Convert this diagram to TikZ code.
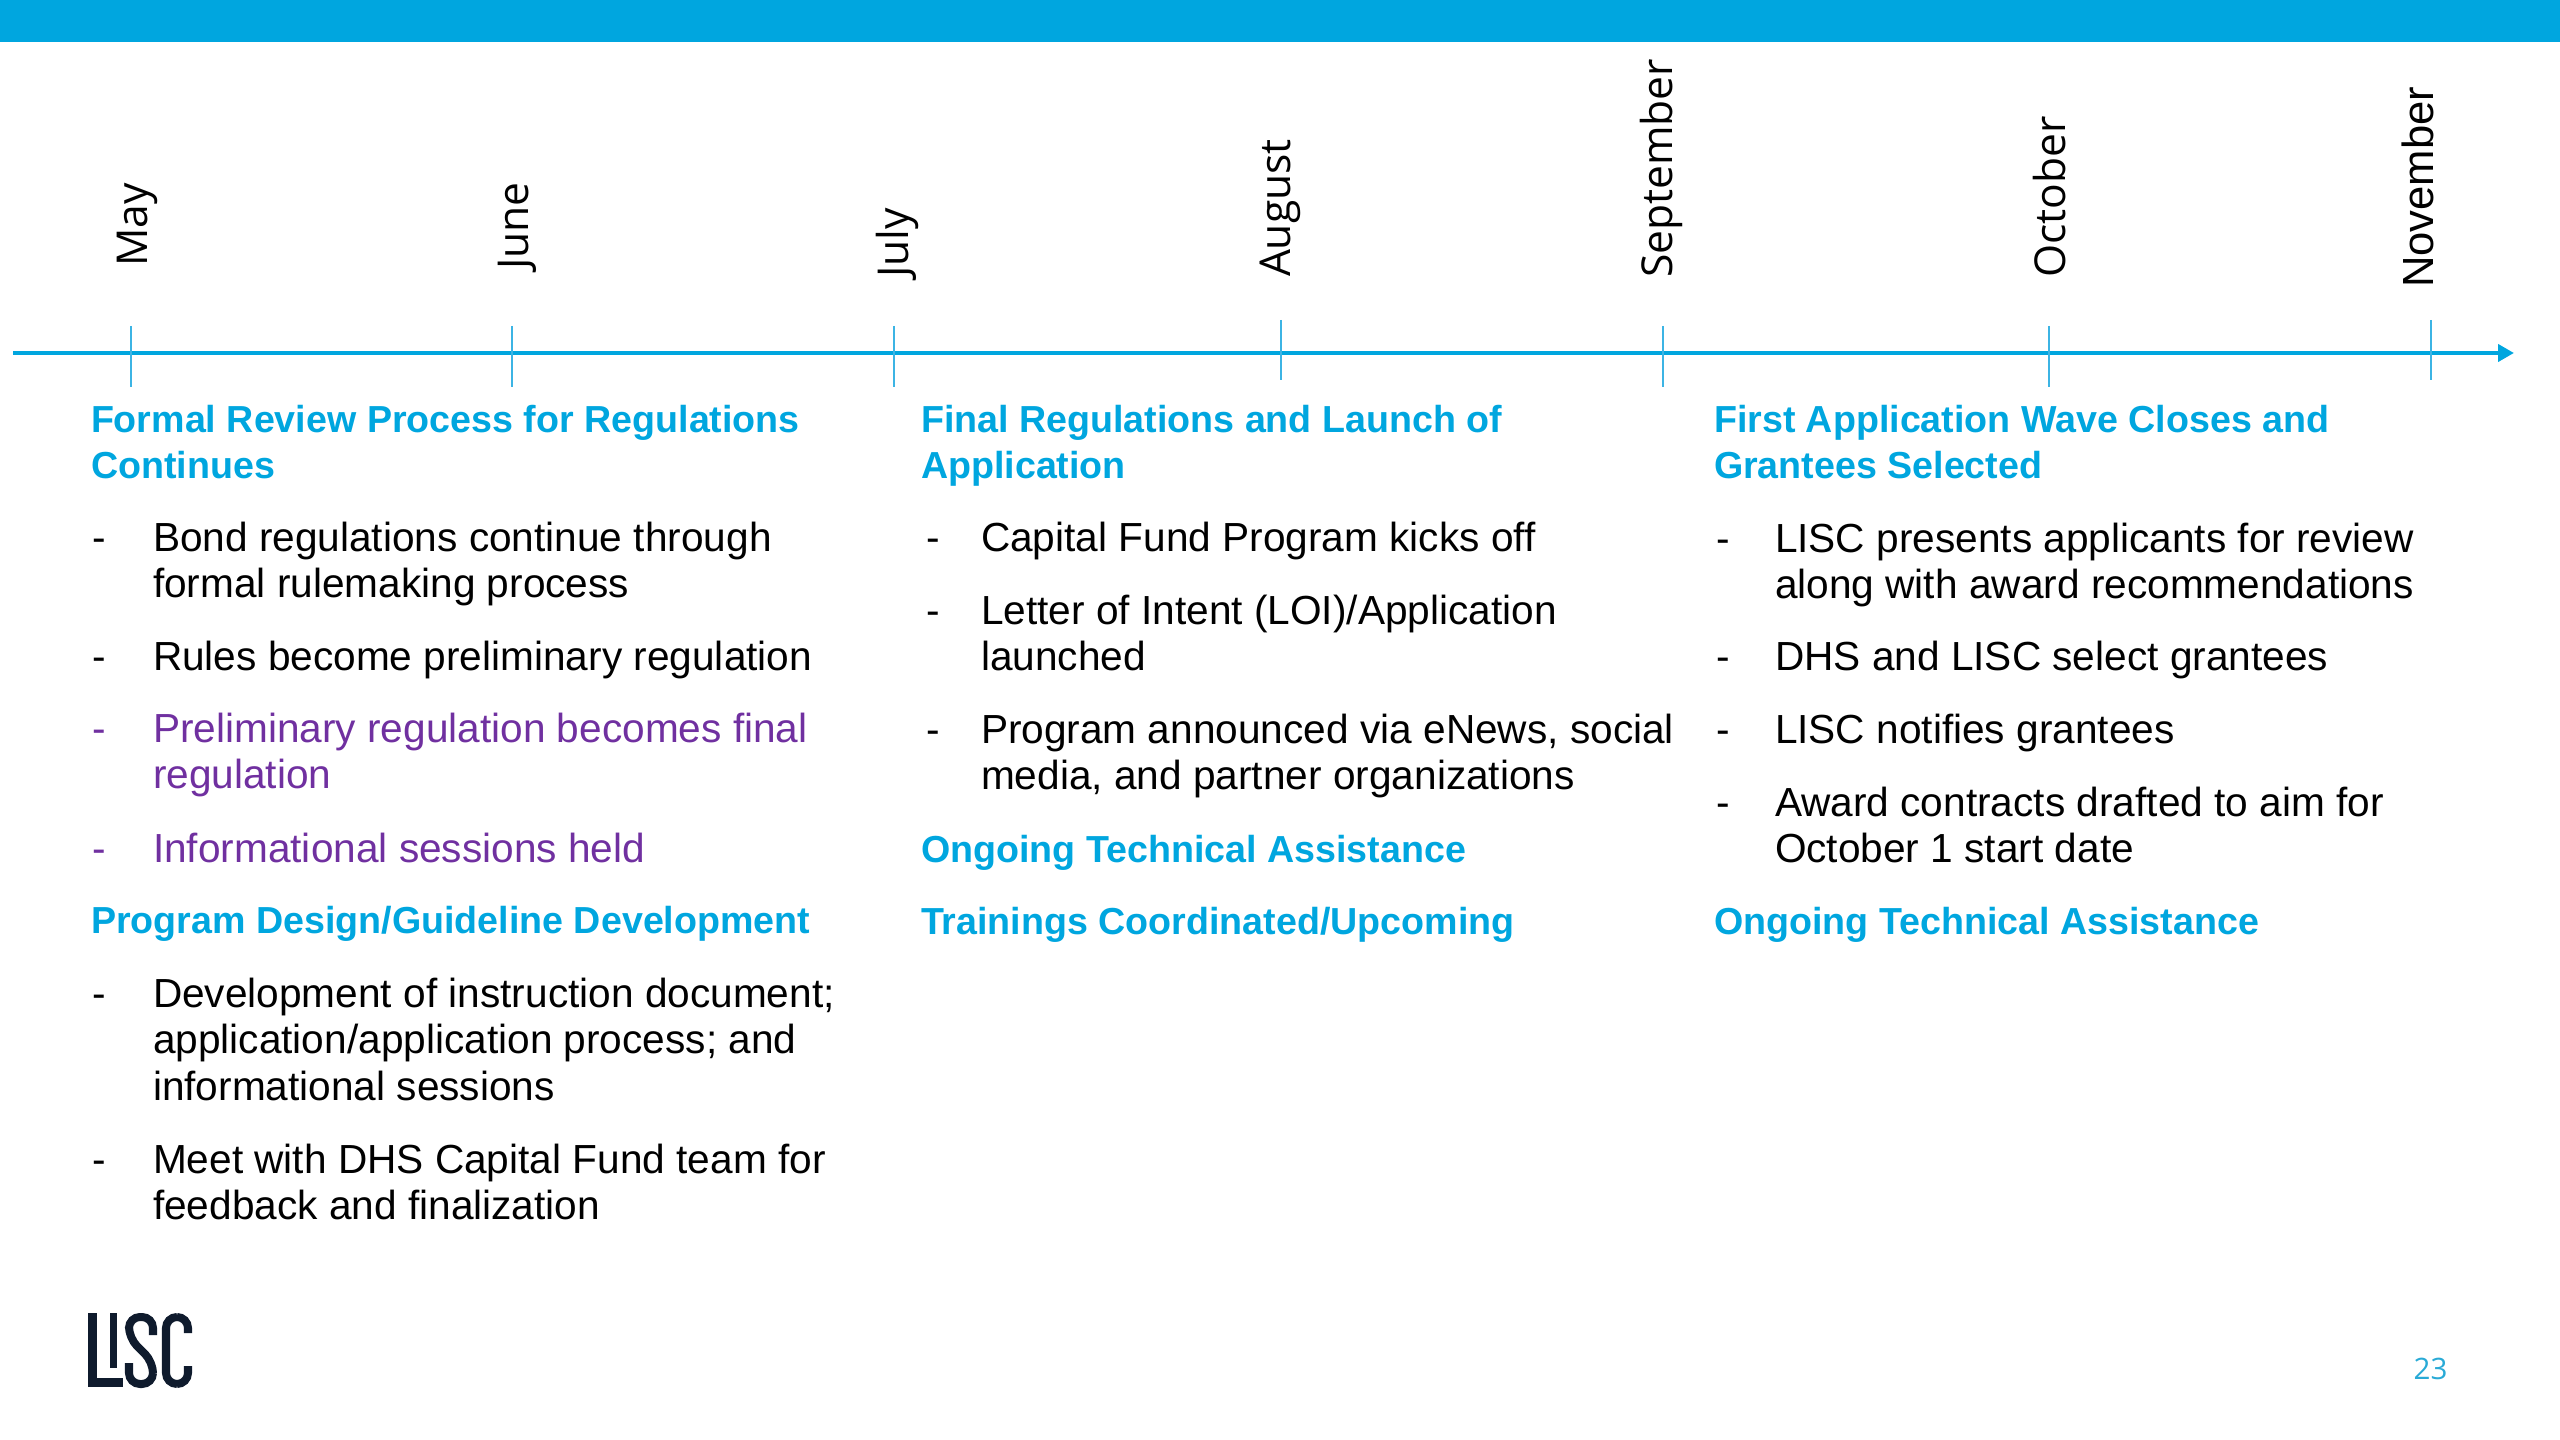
\documentclass[tikz,border=0pt]{standalone}
\usepackage{fontspec}
\setmainfont{Liberation Sans}
\newfontfamily\opensans{Open Sans}
\usetikzlibrary{arrows.meta}
\definecolor{hblue}{RGB}{0,166,223}
\definecolor{barblue}{RGB}{0,166,223}
\definecolor{tickblue}{RGB}{60,180,228}
\definecolor{purp}{RGB}{112,48,160}
\definecolor{navy}{RGB}{15,27,45}
\definecolor{pgblue}{RGB}{41,170,214}
\begin{document}
\begin{tikzpicture}[x=0.01cm,y=-0.01cm,
  body/.style={anchor=base west, inner sep=0pt, outer sep=0pt, font=\fontsize{11.55}{13}\selectfont, text=black},
  purpletext/.style={body, text=purp},
  head/.style={anchor=base west, inner sep=0pt, outer sep=0pt, font=\fontsize{10.7}{13}\selectfont\bfseries, text=hblue},
  month/.style={anchor=base west, inner sep=0pt, outer sep=0pt, rotate=90, font=\opensans\fontsize{12.1}{14}\selectfont},
  tickline/.style={draw=tickblue, line width=0.02cm},
  axisline/.style={draw=barblue, line width=0.04cm},
  logostroke/.style={draw=navy, line width=0.08cm, rounded corners=0.11cm}
]
\useasboundingbox (0,0) rectangle (2560,1440);
% top bar
\fill[barblue] (0,0) rectangle (2560,42);

% axis
\coordinate (axs) at (13,353);
\coordinate (axe) at (2514,353);
\draw[axisline, -{Triangle[length=0.16cm, width=0.17cm]}] (axs) -- (axe);

% ticks
\draw[tickline] (131,326) -- (131,387);
\draw[tickline] (512,326) -- (512,387);
\draw[tickline] (894,326) -- (894,387);
\draw[tickline] (1281,320) -- (1281,380);
\draw[tickline] (1663,326) -- (1663,387);
\draw[tickline] (2049,326) -- (2049,387);
\draw[tickline] (2431,320) -- (2431,380);

% month labels
\node[month] (mmay) at (147,267) {May};
\node[month] (mjun) at (528,270) {June};
\node[month] (mjul) at (908,278) {July};
\node[month] (maug) at (1290,277) {August};
\node[month] (msep) at (1672,278) {September};
\node[month] (moct) at (2065,278) {October};
\node[month, font=\fontsize{12.4}{14}\selectfont] (mnov) at (2433,288) {November};

% column 1
\node[head] (h1a) at (91,433) {Formal Review Process for Regulations};
\node[head] (h1b) at (91,479) {Continues};
\node[body] (d1) at (92,552) {-};
\node[body] (b1a) at (153,552) {Bond regulations continue through};
\node[body] (b1b) at (153,598) {formal rulemaking process};
\node[body] (d2) at (92,671) {-};
\node[body] (b2) at (153,671) {Rules become preliminary regulation};
\node[purpletext] (d3) at (92,743) {-};
\node[purpletext] (b3a) at (153,743) {Preliminary regulation becomes final};
\node[purpletext] (b3b) at (153,789) {regulation};
\node[purpletext] (d4) at (92,863) {-};
\node[purpletext] (b4) at (153,863) {Informational sessions held};
\node[head] (h1c) at (91,933) {Program Design/Guideline Development};
\node[body] (d5) at (92,1008) {-};
\node[body] (b5a) at (153,1008) {Development of instruction document;};
\node[body] (b5b) at (153,1054) {application/application process; and};
\node[body] (b5c) at (153,1100) {informational sessions};
\node[body] (d6) at (92,1173) {-};
\node[body] (b6a) at (153,1173) {Meet with DHS Capital Fund team for};
\node[body] (b6b) at (153,1219) {feedback and finalization};

% column 2
\node[head] (h2a) at (921,433) {Final Regulations and Launch of};
\node[head] (h2b) at (921,479) {Application};
\node[body] (d7) at (926,552) {-};
\node[body] (b7) at (981,552) {Capital Fund Program kicks off};
\node[body] (d8) at (926,625) {-};
\node[body] (b8a) at (981,625) {Letter of Intent (LOI)/Application};
\node[body] (b8b) at (981,671) {launched};
\node[body] (d9) at (926,744) {-};
\node[body] (b9a) at (981,744) {Program announced via eNews, social};
\node[body] (b9b) at (981,790) {media, and partner organizations};
\node[head] (h2c) at (921,863) {Ongoing Technical Assistance};
\node[head] (h2d) at (921,935) {Trainings Coordinated/Upcoming};

% column 3
\node[head] (h3a) at (1714,433) {First Application Wave Closes and};
\node[head] (h3b) at (1714,479) {Grantees Selected};
\node[body] (d10) at (1716,553) {-};
\node[body] (b10a) at (1775,553) {LISC presents applicants for review};
\node[body] (b10b) at (1775,599) {along with award recommendations};
\node[body] (d11) at (1716,671) {-};
\node[body] (b11) at (1775,671) {DHS and LISC select grantees};
\node[body] (d12) at (1716,744) {-};
\node[body] (b12) at (1775,744) {LISC notifies grantees};
\node[body] (d13) at (1716,817) {-};
\node[body] (b13a) at (1775,817) {Award contracts drafted to aim for};
\node[body] (b13b) at (1775,863) {October 1 start date};
\node[head] (h3c) at (1714,935) {Ongoing Technical Assistance};

% logo
\fill[navy] (88,1313) rectangle (97,1387);
\fill[navy] (88,1378) rectangle (123,1387);
\fill[navy] (110,1313) rectangle (117,1368);
\draw[logostroke] (153,1335) -- (153,1317) -- (129,1317) -- (129,1338) -- (153,1362) -- (153,1384) -- (129,1384) -- (129,1363);
\draw[logostroke] (188,1333) -- (188,1317) -- (166,1317) -- (166,1384) -- (188,1384) -- (188,1366);

% page number
\node[anchor=base west, inner sep=0pt, font=\opensans\fontsize{8.4}{10}\selectfont, text=pgblue] (pg) at (2413,1379) {23};
\end{tikzpicture}
\end{document}
